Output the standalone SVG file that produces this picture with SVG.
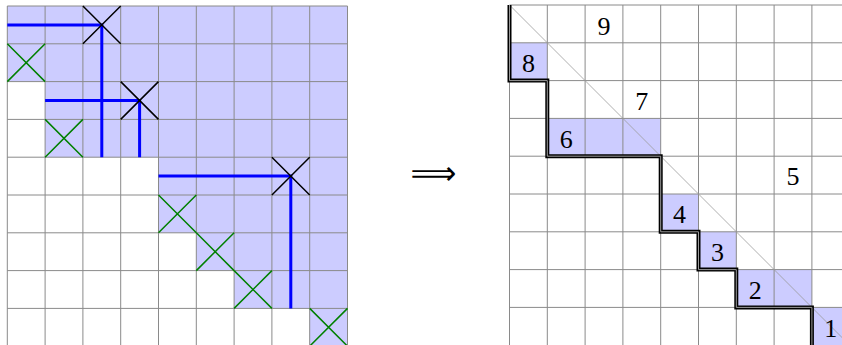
<svg xmlns="http://www.w3.org/2000/svg" width="842" height="345" viewBox="0 0 842 345">
<style>
.shade{fill:#ccccff;stroke:none}
.grid{fill:none;stroke:#8a8a8a;stroke-width:1}
.blue{fill:none;stroke:#0000ff;stroke-width:3}
.gx{fill:none;stroke:#008000;stroke-width:1.5}
.bx{fill:none;stroke:#000;stroke-width:1.5}
.diag{fill:none;stroke:#9a9a9a;stroke-width:0.8}
.stairO{fill:none;stroke:#000;stroke-width:4;stroke-linejoin:miter}
.stairI{fill:none;stroke:#9a9a9a;stroke-width:1;stroke-linejoin:miter}
.num{font-family:"Liberation Serif","Times New Roman",serif;font-size:26px;fill:#000;text-anchor:middle}
.arr{font-family:"DejaVu Sans",sans-serif;font-size:32px;fill:#000;text-anchor:middle}
</style>
<g id="left-matrix" transform="translate(7.3,6)">
  <polygon class="shade" points="0,0 340.2,0 340.2,340.2 302.4,340.2 302.4,302.4 226.8,302.4 226.8,264.6 189,264.6 189,226.8 151.2,226.8 151.2,151.2 37.8,151.2 37.8,75.6 0,75.6"/>
  <path class="grid" d="M0,0V340.2M37.8,0V340.2M75.6,0V340.2M113.4,0V340.2M151.2,0V340.2M189,0V340.2M226.8,0V340.2M264.6,0V340.2M302.4,0V340.2M340.2,0V340.2M0,0H340.2M0,37.8H340.2M0,75.6H340.2M0,113.4H340.2M0,151.2H340.2M0,189H340.2M0,226.8H340.2M0,264.6H340.2M0,302.4H340.2"/>
  <g id="connectors">
    <path class="blue" d="M0,18.9H94.5V151.2"/>
    <path class="blue" d="M37.8,94.5H132.3V151.2"/>
    <path class="blue" d="M151.2,170.1H283.5V302.4"/>
  </g>
  <g id="green-crosses">
    <path class="gx" d="M0,37.8L37.8,75.6M37.8,37.8L0,75.6"/>
    <path class="gx" d="M37.8,113.4L75.6,151.2M75.6,113.4L37.8,151.2"/>
    <path class="gx" d="M151.2,189L189,226.8M189,189L151.2,226.8"/>
    <path class="gx" d="M189,226.8L226.8,264.6M226.8,226.8L189,264.6"/>
    <path class="gx" d="M226.8,264.6L264.6,302.4M264.6,264.6L226.8,302.4"/>
    <path class="gx" d="M302.4,302.4L340.2,340.2M340.2,302.4L302.4,340.2"/>
  </g>
  <g id="black-crosses">
    <path class="bx" d="M75.6,0L113.4,37.8M113.4,0L75.6,37.8"/>
    <path class="bx" d="M113.4,75.6L151.2,113.4M151.2,75.6L113.4,113.4"/>
    <path class="bx" d="M264.6,151.2L302.4,189M302.4,151.2L264.6,189"/>
  </g>
</g>
<g id="implies">
  <text class="arr" x="433.5" y="184">⟹</text>
</g>
<g id="right-matrix" transform="translate(509.5,5)">
  <rect class="shade" x="0" y="37.8" width="37.8" height="37.8"/>
  <rect class="shade" x="37.8" y="113.4" width="113.4" height="37.8"/>
  <rect class="shade" x="151.2" y="189" width="37.8" height="37.8"/>
  <rect class="shade" x="189" y="226.8" width="37.8" height="37.8"/>
  <rect class="shade" x="226.8" y="264.6" width="75.6" height="37.8"/>
  <rect class="shade" x="302.4" y="302.4" width="37.8" height="37.8"/>
  <path class="grid" d="M0,0V340.2M37.8,0V340.2M75.6,0V340.2M113.4,0V340.2M151.2,0V340.2M189,0V340.2M226.8,0V340.2M264.6,0V340.2M302.4,0V340.2M340.2,0V340.2M0,0H340.2M0,37.8H340.2M0,75.6H340.2M0,113.4H340.2M0,151.2H340.2M0,189H340.2M0,226.8H340.2M0,264.6H340.2M0,302.4H340.2"/>
  <path class="diag" d="M0,0L340.2,340.2"/>
  <path class="stairO" d="M0,0V75.6H37.8V151.2H151.2V226.8H189V264.6H226.8V302.4H302.4V345"/>
  <path class="stairI" d="M0,0V75.6H37.8V151.2H151.2V226.8H189V264.6H226.8V302.4H302.4V345"/>
  <g id="labels">
    <text class="num" x="94.5" y="29.5">9</text>
    <text class="num" x="18.9" y="67">8</text>
    <text class="num" x="132.3" y="104.8">7</text>
    <text class="num" x="56.7" y="142.6">6</text>
    <text class="num" x="283.5" y="180.4">5</text>
    <text class="num" x="170.1" y="218.2">4</text>
    <text class="num" x="207.9" y="256">3</text>
    <text class="num" x="245.7" y="293.8">2</text>
    <text class="num" x="321.3" y="331.6">1</text>
  </g>
</g>
</svg>
